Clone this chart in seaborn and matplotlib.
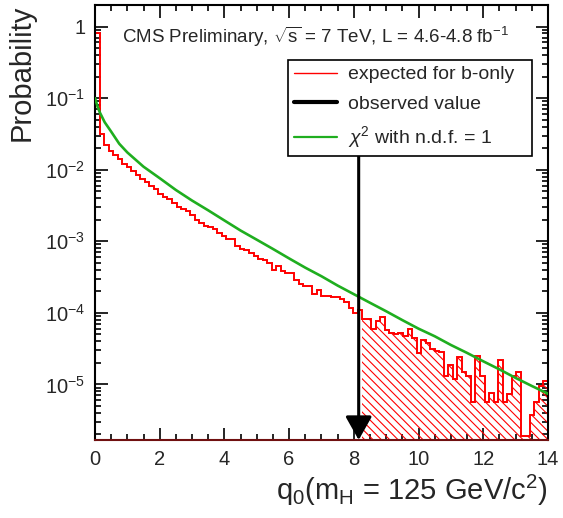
import numpy as np
import matplotlib
matplotlib.use('Agg')
import matplotlib.pyplot as plt
from matplotlib.lines import Line2D
from matplotlib.ticker import LogLocator, MultipleLocator, NullFormatter, FuncFormatter, FixedLocator
import seaborn as sns

# toy distribution of q0, 100 bins between 0 and 14
q_lo, q_hi, n_bins = 0.0, 14.0, 100
prob_bonly = [
    8.2e-1, 3.19e-2, 2.24e-2, 1.81e-2, 1.62e-2, 1.42e-2, 1.21e-2, 1.08e-2, 9.5e-3, 8.55e-3,
    7.45e-3, 6.76e-3, 6.0e-3, 5.4e-3, 4.5e-3, 4.18e-3, 3.83e-3, 3.37e-3, 3.03e-3, 2.78e-3,
    2.63e-3, 2.29e-3, 2.01e-3, 1.81e-3, 1.65e-3, 1.58e-3, 1.46e-3, 1.31e-3, 1.18e-3, 1.08e-3,
    1.06e-3, 8.5e-4, 7.7e-4, 7.45e-4, 6.9e-4, 6.2e-4, 5.7e-4, 5.45e-4, 5.0e-4, 3.95e-4,
    4.5e-4, 3.83e-4, 3.64e-4, 3.6e-4, 2.84e-4, 2.5e-4, 2.37e-4, 2.37e-4, 1.81e-4, 2.08e-4,
    1.71e-4, 1.71e-4, 1.66e-4, 1.68e-4, 1.54e-4, 1.43e-4, 1.18e-4, 1.0e-4, 1.09e-4, 8.1e-5,
    8.3e-5, 6.0e-5, 7.7e-5, 8.6e-5, 5.7e-5, 5.3e-5, 5.0e-5, 5.3e-5, 4.7e-5, 5.9e-5,
    4.5e-5, 2.72e-5, 4.2e-5, 3.8e-5, 3.14e-5, 2.9e-5, 2.79e-5, 1.31e-5, 1.85e-5, 1.18e-5,
    2.42e-5, 1.49e-5, 1.31e-5, 5.6e-6, 2.47e-5, 1.30e-5, 5.6e-6, 7.5e-6, 5.6e-6, 2.22e-5,
    5.6e-6, 7.4e-6, 1.30e-5, 1.48e-5, 1.88e-6, 1.88e-6, 3.78e-6, 5.6e-6, 9.4e-6, 1.12e-5,
]

# chi2 (1 dof) reference curve
chi2_q = [0, 0.08, 0.15, 0.3, 0.5, 0.75, 1.0, 1.5, 2.0, 2.5, 3.0, 3.5, 4.0, 4.5, 5.0, 5.5, 6.0,
          6.5, 7.0, 7.5, 8.0, 8.5, 9.0, 9.5, 10.0, 10.5, 11.0, 11.5, 12.0, 12.5, 13.0, 13.5, 14.0]
chi2_prob = [1.0e-1, 7.6e-2, 6.3e-2, 4.6e-2, 3.4e-2, 2.3e-2, 1.74e-2, 1.10e-2, 7.6e-3, 5.2e-3, 3.7e-3,
             2.7e-3, 1.95e-3, 1.41e-3, 1.05e-3, 7.8e-4, 5.75e-4, 4.27e-4, 3.24e-4, 2.4e-4, 1.82e-4,
             1.38e-4, 1.05e-4, 7.9e-5, 6.0e-5, 4.7e-5, 3.55e-5, 2.75e-5, 2.1e-5, 1.62e-5, 1.23e-5,
             9.5e-6, 7.4e-6]

y_decades = [1e-5, 1e-4, 1e-3, 1e-2, 1e-1, 1.0]
q_obs = 8.15
arrow_top = 0.0154
tail_start = 59   # first bin of the hatched tail
y_lo, y_hi = 1.67e-6, 2.0

sns.set_theme(style='ticks')
plt.rcParams['font.family'] = ['Liberation Sans', 'DejaVu Sans']
plt.rcParams['mathtext.fontset'] = 'custom'
plt.rcParams['mathtext.rm'] = 'Liberation Sans'
plt.rcParams['mathtext.it'] = 'Liberation Sans:italic'
plt.rcParams['mathtext.bf'] = 'Liberation Sans:bold'
plt.rcParams['hatch.color'] = 'red'
plt.rcParams['hatch.linewidth'] = 0.8

fig = plt.figure(figsize=(5.63, 5.18), dpi=100)
ax = fig.add_axes([0.1687, 0.1506, 0.8046, 0.8398])
ax.set_yscale('log')

edges = np.linspace(q_lo, q_hi, n_bins + 1)
vals = np.array(prob_bonly)

# hatched tail above the observed value
ax.stairs(vals[tail_start:], edges[tail_start:], fill=True, baseline=1e-9,
          facecolor='none', edgecolor='red', hatch='\\\\\\\\', lw=0, zorder=1)
ax.stairs(vals, edges, color='red', lw=1.4, baseline=1e-9, zorder=2)

green = '#1fae1f'
sns.lineplot(x=chi2_q, y=chi2_prob, color=green, lw=1.9, ax=ax, zorder=3)

ax.annotate('', xy=(q_obs, y_lo), xytext=(q_obs, arrow_top), annotation_clip=False,
            arrowprops=dict(arrowstyle='-|>,head_length=0.8,head_width=0.45',
                            mutation_scale=18, lw=2.2, color='black',
                            shrinkA=0, shrinkB=0), zorder=4)

ax.set_xlim(q_lo, q_hi)
ax.set_ylim(y_lo, y_hi)

ax.xaxis.set_major_locator(MultipleLocator(2))
ax.xaxis.set_minor_locator(MultipleLocator(0.5))
ax.yaxis.set_major_locator(FixedLocator(y_decades))
ax.yaxis.set_minor_locator(LogLocator(base=10, subs=np.arange(2, 10), numticks=20))
ax.yaxis.set_minor_formatter(NullFormatter())


def decade(v, pos):
    if abs(v - 1) < 1e-9:
        return '1'
    return r'$10^{%d}$' % round(np.log10(v))


ax.yaxis.set_major_formatter(FuncFormatter(decade))
ax.tick_params(which='both', direction='in', top=True, right=True, width=1.2,
               color='black', labelsize=14.5, pad=7)
ax.tick_params(which='major', length=9)
ax.tick_params(which='minor', length=4.5)
for s in ax.spines.values():
    s.set_linewidth(1.5)
    s.set_color('black')
ax.spines['bottom'].set_color('#701010')

ax.set_xlabel(r'q$_{0}$(m$_{\mathrm{H}}$ = 125 GeV/c$^{2}$)', fontsize=21, loc='right')
ax.xaxis.set_label_coords(1.0, -0.075)
ax.set_ylabel('Probability', fontsize=21, loc='top')
ax.yaxis.set_label_coords(-0.132, 1.0)
ax.text(0.0596, 0.9133, r'CMS Preliminary, $\sqrt{\mathrm{s}}$ = 7 TeV, L = 4.6-4.8 fb$^{-1}$',
        transform=ax.transAxes, ha='left', va='baseline', fontsize=13.5)

handles = [Line2D([], [], color='red', lw=1.0),
           Line2D([], [], color='black', lw=3.0),
           Line2D([], [], color=green, lw=1.6)]
labels = ['expected for b-only', 'observed value', r'$\chi^{2}$ with n.d.f. = 1']
leg = ax.legend(handles, labels, loc='upper left', bbox_to_anchor=(0.426, 0.662, 0.539, 0.2116),
                mode='expand', fontsize=14, handlelength=2.2, handletextpad=0.6,
                labelspacing=0.6, borderpad=0.3, fancybox=False, framealpha=1,
                edgecolor='black', borderaxespad=0)
leg.get_frame().set_linewidth(1.2)

fig.savefig('out.png', dpi=100)
